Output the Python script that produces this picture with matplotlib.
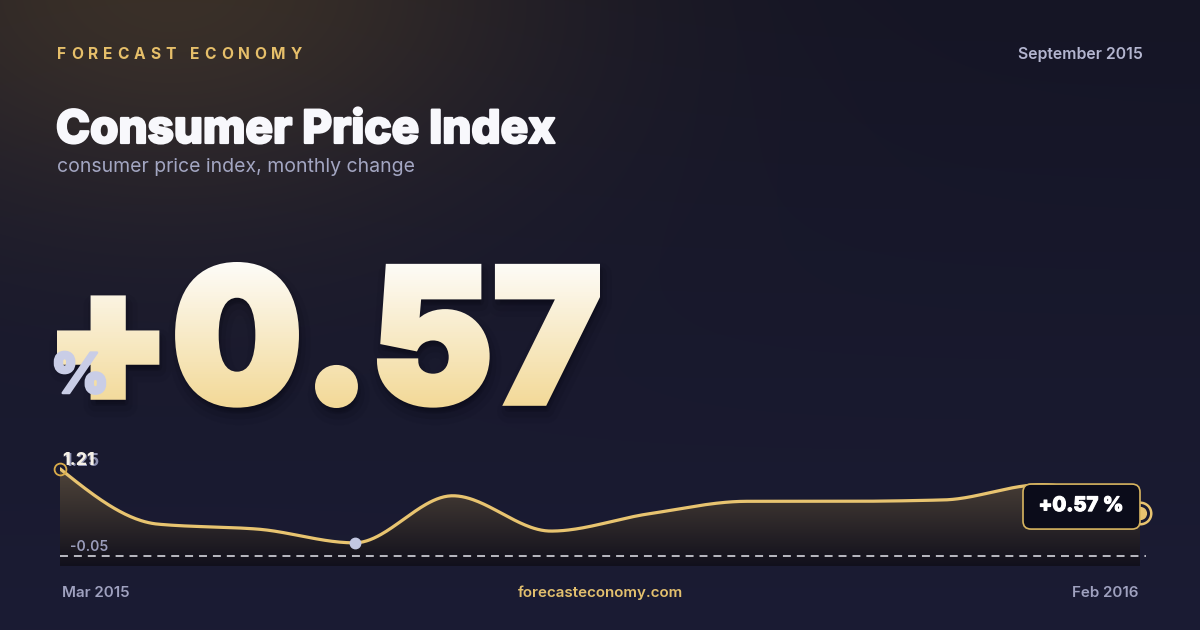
import numpy as np
import matplotlib
matplotlib.use("Agg")
import matplotlib.pyplot as plt
import matplotlib.transforms as mtransforms
from matplotlib import patheffects as pe
from matplotlib.patches import FancyBboxPatch

plt.rcParams['font.family'] = ['Inter', 'DejaVu Sans']

# ---- data ----
months = ["Mar 2015", "Apr 2015", "May 2015", "Jun 2015", "Jul 2015", "Aug 2015",
          "Sep 2015", "Oct 2015", "Nov 2015", "Dec 2015", "Jan 2016", "Feb 2016"]
cpi = [1.21, 0.41, 0.34, 0.14, 0.82, 0.31, 0.56, 0.74, 0.74, 0.76, 0.98, 0.57]
axis_lo = -0.05
axis_hi = 1.25

brand = "FORECAST ECONOMY"
title = "Consumer Price Index"
subtitle = "consumer price index, monthly change"
period = "September 2015"
site = "forecasteconomy.com"
headline = "+0.57"
badge = "+0.57 %"

GOLD = "#e8c470"
W, H = 1200, 630


def monotone(x, y, n=600):
    # monotone cubic (like d3 curveMonotoneX) for drawing the smooth line
    x = np.asarray(x, float)
    y = np.asarray(y, float)
    h = np.diff(x)
    d = np.diff(y) / h
    m = np.zeros_like(y)
    for k in range(1, len(y) - 1):
        if d[k - 1] * d[k] > 0:
            w1 = 2 * h[k] + h[k - 1]
            w2 = h[k] + 2 * h[k - 1]
            m[k] = (w1 + w2) / (w1 / d[k - 1] + w2 / d[k])
    m[0] = (3 * d[0] - m[1]) / 2
    m[-1] = (3 * d[-1] - m[-2]) / 2
    xs = np.linspace(x[0], x[-1], n)
    idx = np.clip(np.searchsorted(x, xs) - 1, 0, len(x) - 2)
    t = (xs - x[idx]) / h[idx]
    h00 = 2 * t**3 - 3 * t**2 + 1
    h10 = t**3 - 2 * t**2 + t
    h01 = -2 * t**3 + 3 * t**2
    h11 = t**3 - t**2
    ys = h00 * y[idx] + h10 * h[idx] * m[idx] + h01 * y[idx + 1] + h11 * h[idx] * m[idx + 1]
    return xs, ys


class GradientFill(pe.AbstractPathEffect):
    """fit the text path into a pixel box, drop a soft shadow, fill with a vertical gradient"""

    def __init__(self, box, top, bot, bold=6, step=2):
        super().__init__()
        self.box = box
        self.top = np.asarray(top)
        self.bot = np.asarray(bot)
        self.bold = bold      # extra stroke, pixels
        self.step = step

    def draw_path(self, renderer, gc, tpath, affine, rgbFace=None):
        p = affine.transform_path(tpath)
        e = p.get_extents()
        x0, y0, x1, y1 = self.box
        s = self.bold / 2
        fit = mtransforms.Affine2D().translate(-e.x0, -e.y0) \
            .scale((x1 - x0 - 2 * s) / e.width, (y1 - y0 - 2 * s) / e.height).translate(x0 + s, y0 + s)
        p = fit.transform_path(p)
        lw_pt = self.bold * 72.0 / renderer.points_to_pixels(72.0)
        for dy, lw, a in [(8, 18, 0.05), (7, 11, 0.08), (5, 6, 0.12)]:
            g = renderer.new_gc()
            g.copy_properties(gc)
            g.set_alpha(a)
            g.set_foreground("#03030a")
            g.set_linewidth(lw)
            g.set_joinstyle("round")
            renderer.draw_path(g, p, mtransforms.Affine2D().translate(dy * 0.3, -dy), (0.01, 0.01, 0.04))
            g.restore()
        lo = int(np.floor(y0)) - 4
        hi = int(np.ceil(y1)) + 4
        for yb in range(lo, hi, self.step):
            fr = np.clip((y1 - (yb + self.step / 2)) / (y1 - y0), 0, 1)
            c = tuple(self.top * (1 - fr) + self.bot * fr)
            g = renderer.new_gc()
            g.copy_properties(gc)
            g.set_foreground(c)
            g.set_linewidth(lw_pt)
            g.set_joinstyle("miter")
            g.set_clip_rectangle(mtransforms.Bbox.from_extents(x0 - 20, yb, x1 + 20, yb + self.step))
            renderer.draw_path(g, p, mtransforms.Affine2D(), c)
            g.restore()


fig = plt.figure(figsize=(12, 6.3), dpi=100)

# ---- background ----
bg = fig.add_axes([0, 0, 1, 1])
yy, xx = np.mgrid[0:H, 0:W]
base_top = np.array([21, 21, 37]) / 255
base_bot = np.array([27, 28, 52]) / 255
f = (yy / H)[..., None]
img = base_top * (1 - f) + base_bot * f
r = np.sqrt(((xx - 170) / 430.0) ** 2 + ((yy + 20) / 260.0) ** 2)
glow = np.exp(-r ** 2 * 1.3)[..., None]
img = img + glow * (np.array([58, 48, 40]) / 255 - base_top)
bg.imshow(np.clip(img, 0, 1), extent=[0, W, 0, H], origin="upper", aspect="auto", zorder=0)
bg.set_xlim(0, W)
bg.set_ylim(0, H)
bg.set_axis_off()

# ---- header texts ----
ren = fig.canvas.get_renderer()
bfont = dict(fontsize=11.2, fontweight="bold", color="#e6bf6a", va="baseline")
chars = []
for ch in brand:
    t = bg.text(0, H - 59, ch, **bfont)
    chars.append(t)
widths = []
for ch, t in zip(brand, chars):
    widths.append(5.0 if ch == " " else t.get_window_extent(ren).width)
track = (302 - 57 - sum(widths)) / (len(brand) - 1)
xpos = 57
for w, t in zip(widths, chars):
    t.set_x(xpos)
    xpos += w + track

bg.text(56, H - 143, title, fontsize=33, fontweight="heavy", color="#f8f8fc", va="baseline",
        path_effects=[pe.withStroke(linewidth=1.6, foreground="#f8f8fc")])
bg.text(57, H - 172, subtitle, fontsize=14, color="#a3a6c2", va="baseline")
bg.text(1143, H - 59, period, fontsize=11.4, fontweight="semibold", color="#b3b5cf",
        ha="right", va="baseline")

# ---- big number (one real text, gradient drawn by its path effect) ----
big_box = (57, H - 408, 600, H - 262)
bg.text(57, H - 408, headline, fontsize=140, fontweight="black", color="#f7e9c4", zorder=2,
        path_effects=[GradientFill(big_box, np.array([253, 252, 248]) / 255,
                                   np.array([242, 216, 150]) / 255)])
bg.text(51, H - 393, "%", fontsize=40, fontweight="black", color="#c9cde6", va="baseline", zorder=3,
        path_effects=[pe.withStroke(linewidth=1.8, foreground="#c9cde6")])

# ---- chart ----
ax = fig.add_axes([60 / W, (H - 566) / H, 1080 / W, (566 - 440) / H])
ax.set_axis_off()
ax.patch.set_alpha(0)
ppu = 90 / (axis_hi - axis_lo)
ylo = axis_lo - 10 / ppu
yhi = axis_hi + 26 / ppu
x = np.arange(len(cpi))
xs, ys = monotone(x, cpi)

poly = ax.fill_between(xs, ys, ylo, color="none", lw=0)
gf = np.linspace(0, 1, 256)
warm = np.array([80, 69, 58]) / 255
dark = np.array([17, 16, 28]) / 255
fgrad = (warm * (1 - gf[:, None]) + dark * gf[:, None])[:, None, :]
fim = ax.imshow(fgrad, extent=[x[0], x[-1], ylo, max(cpi)], origin="upper", aspect="auto", zorder=1)
fim.set_clip_path(poly.get_paths()[0], transform=ax.transData)

ax.axhline(axis_lo, xmin=0, xmax=1.006, color="#e6e6ee", lw=1.1, dashes=(5.2, 3.9), clip_on=False, zorder=2)
ax.plot(xs, ys, color=GOLD, lw=2.3, solid_capstyle="round", zorder=3)

imin = int(np.argmin(cpi))
ax.plot(x[imin], cpi[imin], "o", ms=7.5, color="#c3c7e2", zorder=4)
ax.plot(x[0], cpi[0], "o", ms=8.5, mfc="none", mec="#d9ac4a", mew=1.3, zorder=4, clip_on=False)
ax.plot(x[-1], cpi[-1], "o", ms=15.5, mfc="none", mec=GOLD, mew=1.8, zorder=6, clip_on=False)
ax.plot(x[-1], cpi[-1], "o", ms=8.5, color=GOLD, zorder=6, clip_on=False)

ax.annotate(f"{axis_lo:.2f}", xy=(0, axis_lo), xytext=(10, 9), textcoords="offset pixels",
            fontsize=10, fontweight="semibold", color="#9a9dbb", va="center", ha="left")
ax.annotate(f"{axis_hi:.2f}", xy=(0, axis_hi), xytext=(4, 5), textcoords="offset pixels",
            fontsize=12.5, fontweight="bold", color="#8d90b0", va="center", ha="left")
ax.annotate(f"{cpi[0]:.2f}", xy=(0, cpi[0]), xytext=(2, 8), textcoords="offset pixels",
            fontsize=12.5, fontweight="heavy", color="#f4f0e6", va="center", ha="left")

ax.set_xlim(x[0], x[-1])
ax.set_ylim(ylo, yhi)

# badge next to last point
px, py = ax.transData.transform((x[-1], cpi[-1]))
btr = mtransforms.Affine2D().translate(px, py)
box = FancyBboxPatch((-117, -16), 117, 45, boxstyle="round,pad=0,rounding_size=8",
                     fc="#0b0c1a", ec="#d8b560", lw=1.2, transform=btr, zorder=5)
fig.add_artist(box)
fig.text(px - 59, py + 7, badge, transform=mtransforms.IdentityTransform(), fontsize=14.5,
         fontweight="heavy", color="white", ha="center", va="center", zorder=6,
         path_effects=[pe.withStroke(linewidth=0.8, foreground="white")])

# ---- footer ----
bg.text(62, H - 597, months[0], fontsize=10.9, fontweight="semibold", color="#9fa1bf", va="baseline")
bg.text(600, H - 597, site, fontsize=10.9, fontweight="semibold", color="#e3c06e", ha="center", va="baseline")
bg.text(1138, H - 597, months[-1], fontsize=10.9, fontweight="semibold", color="#9fa1bf", ha="right", va="baseline")

fig.savefig("out.png", dpi=100)
